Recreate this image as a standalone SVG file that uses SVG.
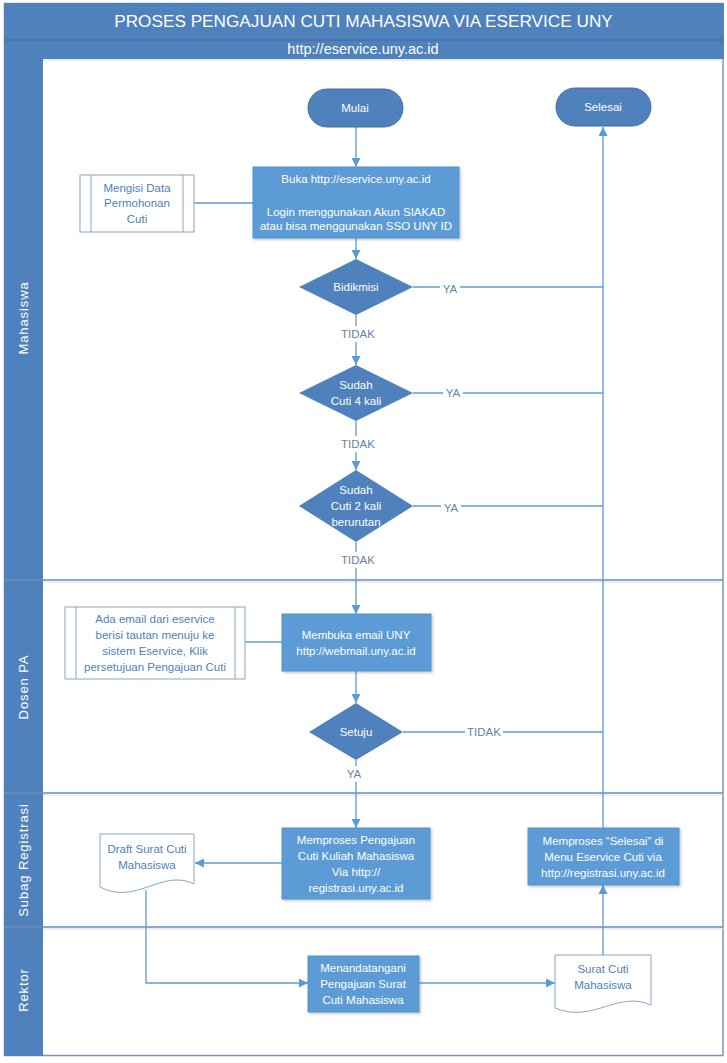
<svg xmlns="http://www.w3.org/2000/svg" width="727" height="1063" viewBox="0 0 727 1063">
<defs>
<marker id="arr" viewBox="0 0 10 10" refX="10" refY="5" markerWidth="9" markerHeight="9" orient="auto" markerUnits="userSpaceOnUse"><path d="M0,0 L10,5 L0,10 z" fill="#5b9bd5"/></marker>
<filter id="sh" x="-10%" y="-10%" width="130%" height="130%"><feDropShadow dx="1.5" dy="1.5" stdDeviation="1" flood-color="#000" flood-opacity="0.22"/></filter>
</defs>
<style>
text{font-family:"Liberation Sans",Arial,sans-serif}
.w{fill:#fff;font-size:11.5px;text-anchor:middle}
.b{fill:#4f7fb8;font-size:11.5px;text-anchor:middle}
.lbl{fill:#6483aa;font-size:11.5px;text-anchor:middle}
.lane{fill:#fff;font-size:13px;text-anchor:middle;letter-spacing:0.9px}
.c{fill:none;stroke:#5b9bd5;stroke-width:1.3}
.proc{fill:#5b9bd5;stroke:#5593cc;stroke-width:1}
.dec{fill:#4f81bd}
.term{fill:#4f81bd;stroke:#41719c;stroke-width:1}
.pre{fill:#fff;stroke:#8aa4c4;stroke-width:1}
.sep{stroke:#6e8db3;stroke-width:1.5}
.glow{stroke:#cfe0f3;stroke-width:1}
</style>
<rect x="0" y="0" width="727" height="1063" fill="#fff"/>
<g id="frame">
<rect x="4.5" y="3.5" width="718.5" height="1052" fill="#fff" stroke="#7a96b5" stroke-width="1.5"/>
<rect x="4" y="3" width="720" height="37" fill="#4f81bd"/>
<rect x="4" y="40" width="720" height="19" fill="#4f81bd"/>
<line x1="4" y1="40" x2="724" y2="40" stroke="#3d6a9e" stroke-width="1"/>
<line x1="43" y1="60" x2="723" y2="60" class="glow"/>
<rect x="4" y="59" width="39" height="997" fill="#4f81bd"/>
<text x="363.5" y="27" style="fill:#fff;font-size:17.2px;text-anchor:middle">PROSES PENGAJUAN CUTI MAHASISWA VIA ESERVICE UNY</text>
<text x="363" y="54" style="fill:#fff;font-size:14.5px;text-anchor:middle">http://eservice.uny.ac.id</text>
</g>
<g id="lanes">
<line x1="43" y1="582" x2="723" y2="582" class="glow"/>
<line x1="4" y1="580" x2="723" y2="580" class="sep"/>
<line x1="43" y1="795" x2="723" y2="795" class="glow"/>
<line x1="4" y1="793" x2="723" y2="793" class="sep"/>
<line x1="43" y1="929" x2="723" y2="929" class="glow"/>
<line x1="4" y1="927" x2="723" y2="927" class="sep"/>
<text class="lane" transform="translate(28,318) rotate(-90)">Mahasiswa</text>
<text class="lane" transform="translate(28,687) rotate(-90)">Dosen PA</text>
<text class="lane" transform="translate(28,860) rotate(-90)">Subag Registrasi</text>
<text class="lane" transform="translate(28,990) rotate(-90)">Rektor</text>
</g>
<g id="connectors">
<line x1="356" y1="127" x2="356" y2="167" class="c" marker-end="url(#arr)"/>
<line x1="194" y1="203" x2="253" y2="203" class="c"/>
<line x1="356" y1="238" x2="356" y2="259" class="c" marker-end="url(#arr)"/>
<line x1="356" y1="315" x2="356" y2="326" class="c"/>
<line x1="356" y1="342" x2="356" y2="365" class="c" marker-end="url(#arr)"/>
<line x1="356" y1="421" x2="356" y2="436" class="c"/>
<line x1="356" y1="452" x2="356" y2="470" class="c" marker-end="url(#arr)"/>
<line x1="356" y1="542" x2="356" y2="552" class="c"/>
<line x1="356" y1="568" x2="356" y2="614" class="c" marker-end="url(#arr)"/>
<line x1="413" y1="287" x2="603" y2="287" class="c"/>
<line x1="413" y1="393" x2="603" y2="393" class="c"/>
<line x1="413" y1="506" x2="603" y2="506" class="c"/>
<line x1="245" y1="642" x2="282" y2="642" class="c"/>
<line x1="356" y1="671" x2="356" y2="703" class="c" marker-end="url(#arr)"/>
<line x1="403" y1="732" x2="603" y2="732" class="c"/>
<line x1="356" y1="760" x2="356" y2="766" class="c"/>
<line x1="356" y1="782" x2="356" y2="828" class="c" marker-end="url(#arr)"/>
<line x1="603" y1="828" x2="603" y2="127" class="c" marker-end="url(#arr)"/>
<line x1="282" y1="863" x2="195" y2="863" class="c" marker-end="url(#arr)"/>
<path d="M146,890 V983 H308" class="c" marker-end="url(#arr)"/>
<line x1="419" y1="983" x2="555" y2="983" class="c" marker-end="url(#arr)"/>
<line x1="603" y1="956" x2="603" y2="885" class="c" marker-end="url(#arr)"/>
<rect x="440" y="281" width="20" height="14" fill="#fff"/>
<text x="450" y="293" class="lbl">YA</text>
<rect x="443" y="386" width="20" height="14" fill="#fff"/>
<text x="453" y="397" class="lbl">YA</text>
<rect x="441" y="500" width="20" height="14" fill="#fff"/>
<text x="451" y="512" class="lbl">YA</text>
<text x="358" y="338" class="lbl">TIDAK</text>
<text x="358" y="448" class="lbl">TIDAK</text>
<text x="358" y="564" class="lbl">TIDAK</text>
<rect x="465" y="725" width="38" height="14" fill="#fff"/>
<text x="484" y="736" class="lbl">TIDAK</text>
<text x="354" y="778" class="lbl">YA</text>
</g>
<g id="mulai"><rect x="308" y="89" width="95" height="38" rx="19" class="term"/><text x="355" y="112" class="w">Mulai</text></g>
<g id="selesai"><rect x="556" y="88" width="95" height="38" rx="19" class="term"/><text x="603" y="111" class="w">Selesai</text></g>
<g id="buka"><rect x="253" y="167" width="206" height="71" class="proc" filter="url(#sh)"/>
<text x="356" y="183" class="w">Buka http://eservice.uny.ac.id</text>
<text x="356" y="216" class="w">Login menggunakan Akun SIAKAD</text>
<text x="356" y="230" class="w">atau bisa menggunakan SSO UNY ID</text></g>
<g id="mengisi"><rect x="80" y="175" width="114" height="57" class="pre"/>
<line x1="91" y1="175" x2="91" y2="232" class="pre"/><line x1="183" y1="175" x2="183" y2="232" class="pre"/>
<text x="137" y="192" class="b">Mengisi Data</text>
<text x="137" y="207" class="b">Permohonan</text>
<text x="137" y="223" class="b">Cuti</text></g>
<g id="bidikmisi"><polygon points="356,259 413,287 356,315 299,287" class="dec"/><text x="356" y="291" class="w">Bidikmisi</text></g>
<g id="cuti4"><polygon points="356,365 413,393 356,421 299,393" class="dec"/>
<text x="356" y="389" class="w">Sudah</text><text x="356" y="405" class="w">Cuti 4 kali</text></g>
<g id="cuti2"><polygon points="356,470 413,506 356,542 299,506" class="dec"/>
<text x="356" y="494" class="w">Sudah</text><text x="356" y="510" class="w">Cuti 2 kali</text><text x="356" y="526" class="w">berurutan</text></g>
<g id="adaemail"><rect x="65" y="607" width="180" height="72" class="pre"/>
<line x1="76" y1="607" x2="76" y2="679" class="pre"/><line x1="235" y1="607" x2="235" y2="679" class="pre"/>
<text x="155" y="623" class="b">Ada email dari eservice</text>
<text x="155" y="639" class="b">berisi tautan menuju ke</text>
<text x="155" y="655" class="b">sistem Eservice, Klik</text>
<text x="155" y="671" class="b">persetujuan Pengajuan Cuti</text></g>
<g id="membuka"><rect x="282" y="614" width="149" height="57" class="proc" filter="url(#sh)"/>
<text x="356" y="639" class="w">Membuka email UNY</text>
<text x="356" y="655" class="w">http://webmail.uny.ac.id</text></g>
<g id="setuju"><polygon points="356,703 403,732 356,760 309,732" class="dec"/><text x="356" y="736" class="w">Setuju</text></g>
<g id="memproses"><rect x="282" y="828" width="148" height="71" class="proc" filter="url(#sh)"/>
<text x="356" y="844" class="w">Memproses Pengajuan</text>
<text x="356" y="860" class="w">Cuti Kuliah Mahasiswa</text>
<text x="356" y="876" class="w">Via http://</text>
<text x="356" y="892" class="w">registrasi.uny.ac.id</text></g>
<g id="draft"><path d="M100,834 H194 V884 C162,868 136,906 100,887 Z" class="pre"/>
<text x="147" y="853" class="b">Draft Surat Cuti</text>
<text x="147" y="869" class="b">Mahasiswa</text></g>
<g id="menandatangani"><rect x="308" y="956" width="111" height="56" class="proc" filter="url(#sh)"/>
<text x="363" y="972" class="w">Menandatangani</text>
<text x="363" y="988" class="w">Pengajuan Surat</text>
<text x="363" y="1004" class="w">Cuti Mahasiswa</text></g>
<g id="surat"><path d="M555,955 H651 V1005 C618,990 592,1024 555,1008 Z" class="pre"/>
<text x="603" y="973" class="b">Surat Cuti</text>
<text x="603" y="989" class="b">Mahasiswa</text></g>
<g id="prosesselesai"><rect x="528" y="828" width="151" height="57" class="proc" filter="url(#sh)"/>
<text x="603" y="845" class="w">Memproses “Selesai” di</text>
<text x="603" y="861" class="w">Menu Eservice Cuti via</text>
<text x="603" y="877" class="w">http://registrasi.uny.ac.id</text></g>
</svg>
